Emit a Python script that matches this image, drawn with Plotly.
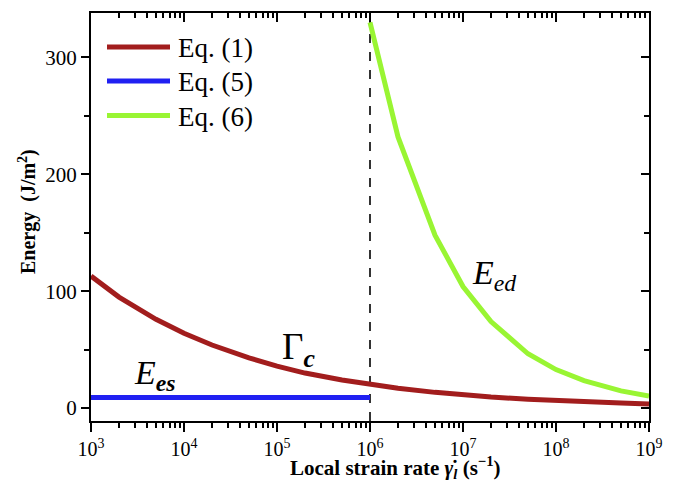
import plotly.graph_objects as go

# Eq. (1) - Gamma_c
x_eq1 = [1e3, 2e3, 5e3, 1e4, 2e4, 5e4, 1e5, 2e5, 5e5, 1e6, 2e6, 5e6, 1e7, 2e7, 5e7, 1e8, 2e8, 5e8, 1e9]
y_eq1 = [113, 95, 76, 64, 54, 43, 36, 30, 24, 20, 17, 13.5, 11.3, 9.5, 7.6, 6.4, 5.4, 4.3, 3.6]
# Eq. (5) - E_es
x_eq5 = [1e3, 1e6]
y_eq5 = [9, 9]
# Eq. (6) - E_ed
x_eq6 = [1e6, 2e6, 5e6, 1e7, 2e7, 5e7, 1e8, 2e8, 5e8, 1e9]
y_eq6 = [330, 232, 148, 104, 74, 46.5, 33, 23.5, 14.8, 10.4]

x_dash = [1e6, 1e6]
y_dash = [-11, 338]

series_names = ["Eq. (1)", "Eq. (5)", "Eq. (6)"]
x_major = [1e3, 1e4, 1e5, 1e6, 1e7, 1e8, 1e9]
x_ticktext = ["10<sup>3</sup>", "10<sup>4</sup>", "10<sup>5</sup>", "10<sup>6</sup>",
              "10<sup>7</sup>", "10<sup>8</sup>", "10<sup>9</sup>"]
y_major = [0, 100, 200, 300]
y_minor = [50, 150, 250]
x_minor = [m * 10 ** e for e in range(3, 9) for m in range(2, 10)]

FONT = '"Liberation Serif", "Times New Roman", Times, serif'
red, blue, green = "#A21D1D", "#2020F2", "#99F533"
colors = [red, blue, green]

fig = go.Figure()
fig.add_trace(go.Scatter(x=x_dash, y=y_dash, mode="lines", showlegend=False,
                         line=dict(color="black", width=1.6, dash="dash")))
fig.add_trace(go.Scatter(x=x_eq1, y=y_eq1, mode="lines", name=series_names[0], showlegend=False,
                         line=dict(color=red, width=5)))
fig.add_trace(go.Scatter(x=x_eq5, y=y_eq5, mode="lines", name=series_names[1], showlegend=False,
                         line=dict(color=blue, width=5)))
fig.add_trace(go.Scatter(x=x_eq6, y=y_eq6, mode="lines", name=series_names[2], showlegend=False,
                         line=dict(color=green, width=5)))

xr = [3, 9]
yr = [-11, 338]
L, R, T, B = 91, 32, 13, 61
W, H = 681, 482
pw, ph = W - L - R, H - T - B

def px(xp):
    return (xp - L) / pw

def py(yp):
    return (H - B - yp) / ph

tick = dict(tickwidth=1.5, tickcolor="black")

fig.update_layout(
    width=W, height=H,
    margin=dict(l=L, r=R, t=T, b=B, autoexpand=False),
    plot_bgcolor="white", paper_bgcolor="white",
    font=dict(family=FONT, size=18, color="black"),
    showlegend=False,
    xaxis=dict(type="log", range=xr, tickmode="array", tickvals=x_major, ticktext=x_ticktext,
               showline=True, linecolor="black", linewidth=2, automargin=False,
               ticks="outside", ticklen=9, **tick,
               minor=dict(ticks="outside", ticklen=5, tickmode="array", tickvals=x_minor, showgrid=False, **tick),
               showgrid=False, zeroline=False, tickangle=0,
               tickfont=dict(family=FONT, size=20)),
    yaxis=dict(range=yr, tickmode="array", tickvals=y_major, automargin=False,
               showline=True, linecolor="black", linewidth=2,
               ticks="outside", ticklen=8, **tick,
               minor=dict(ticks="outside", ticklen=5, tickmode="array", tickvals=y_minor, showgrid=False, **tick),
               showgrid=False, zeroline=False,
               tickfont=dict(family=FONT, size=21)),
    xaxis2=dict(type="log", range=xr, tickmode="array", tickvals=x_major, overlaying="x", side="top", anchor="y",
                showline=True, linecolor="black", linewidth=2, automargin=False,
                ticks="inside", ticklen=9, **tick,
                minor=dict(ticks="inside", ticklen=5, tickmode="array", tickvals=x_minor, showgrid=False, **tick),
                showticklabels=False, showgrid=False, zeroline=False),
    yaxis2=dict(range=yr, tickmode="array", tickvals=y_major, overlaying="y", side="right", anchor="x",
                showline=True, linecolor="black", linewidth=2, automargin=False,
                ticks="inside", ticklen=8, **tick,
                minor=dict(ticks="inside", ticklen=5, tickmode="array", tickvals=y_minor, showgrid=False, **tick),
                showticklabels=False, showgrid=False, zeroline=False),
)

# invisible trace to activate secondary axes
fig.add_trace(go.Scatter(x=[1e3], y=[0], xaxis="x2", yaxis="y2", mode="markers",
                         marker=dict(opacity=0), showlegend=False, hoverinfo="skip"))

# axis titles
fig.add_annotation(xref="paper", yref="paper", x=px(395), y=py(467), xanchor="center", yanchor="middle",
                   showarrow=False,
                   text="<b>Local strain rate </b><b><i>γ̇</i><sub><i>l</i></sub></b><b> (s<sup>−1</sup>)</b>",
                   font=dict(family=FONT, size=21))
fig.add_annotation(xref="paper", yref="paper", x=px(27), y=py(212), xanchor="center", yanchor="middle",
                   showarrow=False, textangle=-90,
                   text="<b>Energy  (J/m<sup>2</sup>)</b>", font=dict(family=FONT, size=20))

# legend (manual, Origin style)
leg_y = [47, 81, 115.5]
for name, col, yy in zip(series_names, colors, leg_y):
    fig.add_shape(type="line", xref="paper", yref="paper", x0=px(107), x1=px(170), y0=py(yy), y1=py(yy),
                  line=dict(color=col, width=5))
    fig.add_annotation(xref="paper", yref="paper", x=px(176), y=py(yy + 1), xanchor="left", yanchor="middle",
                       showarrow=False, text=name, font=dict(family=FONT, size=27))

# curve labels
fig.add_annotation(x=5.23, y=50, xref="x", yref="y", showarrow=False,
                   text="Γ<sub><b><i>c</i></b></sub>", font=dict(family=FONT, size=37))
fig.add_annotation(x=3.69, y=28, xref="x", yref="y", showarrow=False,
                   text="<i>E</i><sub><b><i>es</i></b></sub>", font=dict(family=FONT, size=34))
fig.add_annotation(x=7.33, y=114, xref="x", yref="y", showarrow=False,
                   text="<i>E</i><sub><i>ed</i></sub>", font=dict(family=FONT, size=34))

fig.write_html("out.html")
